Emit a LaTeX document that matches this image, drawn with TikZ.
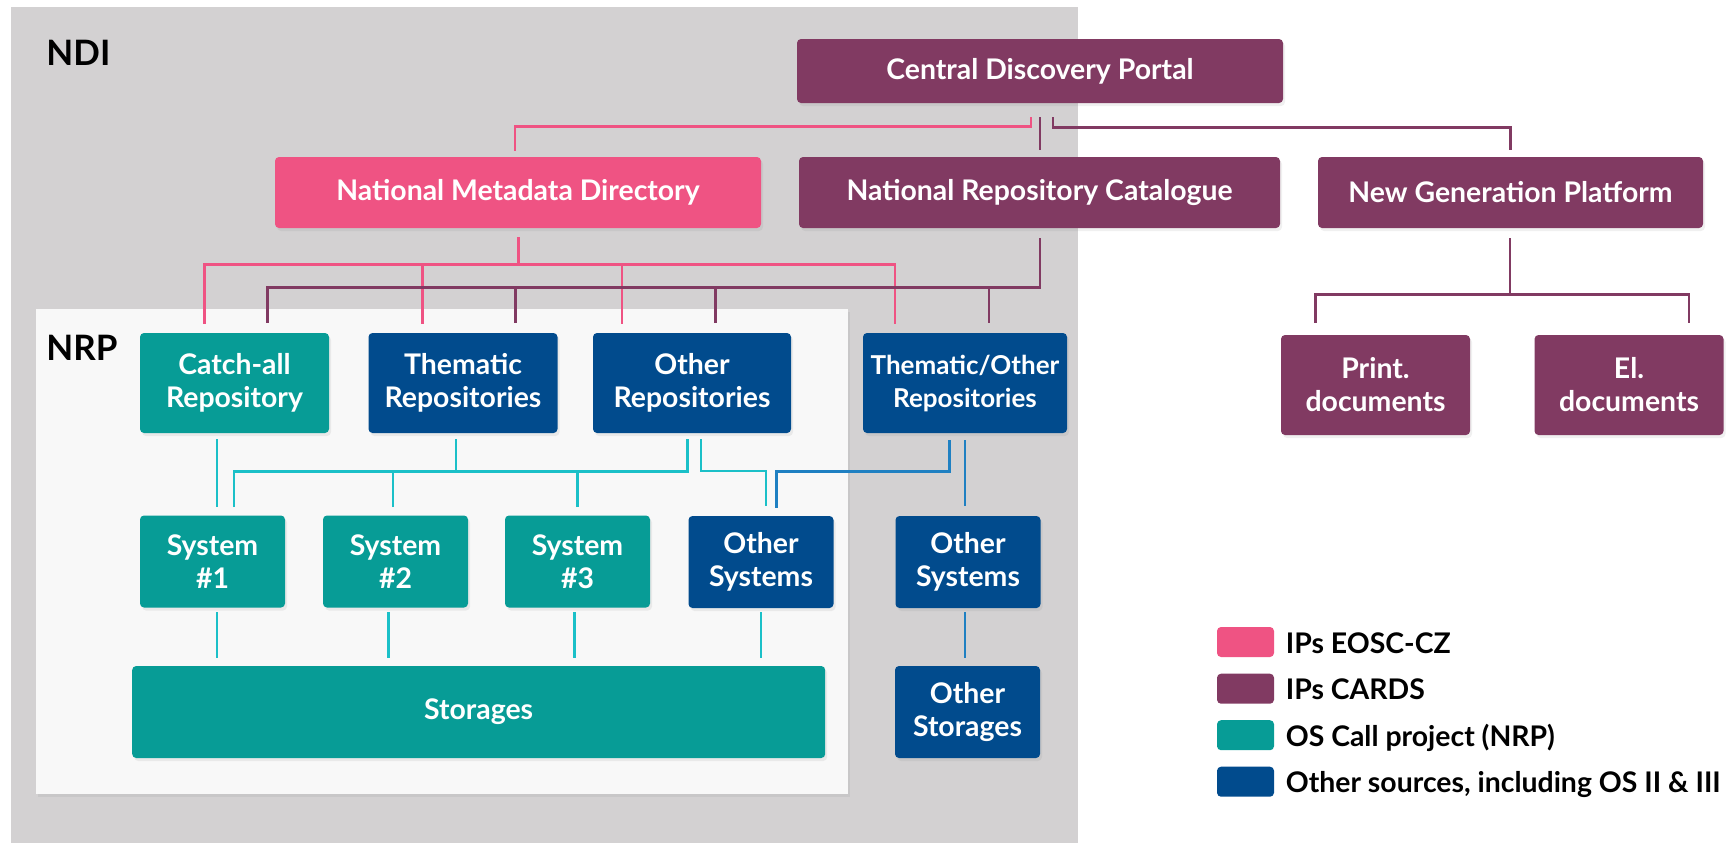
\documentclass[tikz,border=0pt]{standalone}
\usepackage{fontspec}
\setmainfont{Lato}
\usetikzlibrary{calc,shadows}

\definecolor{ndigray}{HTML}{D3D1D2}
\definecolor{nrpwhite}{HTML}{F8F8F8}
\definecolor{eoscpink}{HTML}{EF5383}
\definecolor{cardspurple}{HTML}{813A62}
\definecolor{osteal}{HTML}{079C96}
\definecolor{otherblue}{HTML}{014B8D}
\definecolor{tealline}{HTML}{1BC0C8}
\definecolor{blueline}{HTML}{1F80C2}

\tikzset{
  box/.style={rectangle,rounded corners=2pt,inner sep=0pt,align=center,text=white,
    font=\bfseries\fontsize{14.2}{16.5}\selectfont,
    drop shadow={shadow xshift=1pt,shadow yshift=-1.5pt,opacity=.12}},
  pinkbox/.style={box,fill=eoscpink},
  cardsbox/.style={box,fill=cardspurple},
  tealbox/.style={box,fill=osteal},
  bluebox/.style={box,fill=otherblue},
  repobox/.style={minimum width=94.5pt,minimum height=50pt},
  sysbox/.style={minimum width=72.5pt,minimum height=46pt},
  lpink/.style={draw=eoscpink,line width=1.2pt},
  lcards/.style={draw=cardspurple,line width=1.2pt},
  lteal/.style={draw=tealline,line width=1.2pt},
  lblue/.style={draw=blueline,line width=1.2pt},
  grouplbl/.style={inner sep=0pt,text=black,font=\bfseries\fontsize{17.5}{20}\selectfont},
  swatch/.style={rectangle,rounded corners=2pt,inner sep=0pt,minimum width=28.5pt,minimum height=15pt},
  legtext/.style={inner sep=0pt,text=black,anchor=base west,font=\bfseries\fontsize{14.2}{16}\selectfont}
}

\begin{document}
\begin{tikzpicture}[x=0.5pt,y=-0.5pt]
  %\draw (current page.south west) to[grid with coordinates] (current page.north east);
\useasboundingbox (0,0) rectangle (1729,843);
\fill[ndigray] (10.7,7.3) rectangle (1078,843);
\path[fill=nrpwhite,drop shadow={shadow xshift=1pt,shadow yshift=-1.5pt,opacity=.12}]
  (35.6,309.3) rectangle (847.6,793.7);
\node[grouplbl,anchor=north west] (ndilbl) at (46,40) {NDI};
\node[grouplbl,anchor=north west] (nrplbl) at (46,335) {NRP};

\node[cardsbox,minimum width=243pt,minimum height=32pt] (cdp) at (1040,71) {Central Discovery Portal};
\node[pinkbox,minimum width=243pt,minimum height=35.5pt] (nmd) at (518,192.5) {National Metadata Directory};
\node[cardsbox,minimum width=240.5pt,minimum height=35.5pt] (nrc) at (1039.5,192.5) {National Repository Catalogue};
\node[cardsbox,minimum width=192.5pt,minimum height=35.5pt] (ngp) at (1510.5,192.5) {New Generation Platform};

\node[tealbox,repobox] (catch) at (234.5,383) {Catch-all\\Repository};
\node[bluebox,repobox] (them) at (463,383) {Thematic\\Repositories};
\node[bluebox,repobox,minimum width=99pt] (othrep) at (692,383) {Other\\Repositories};
\node[bluebox,repobox,minimum width=102pt,font=\bfseries\fontsize{13}{16.5}\selectfont] (thoth) at (965,383) {Thematic/Other\\Repositories};
\node[cardsbox,repobox] (print) at (1375.5,385) {Print.\\documents};
\node[cardsbox,repobox] (eldoc) at (1629,385) {El.\\documents};

\node[tealbox,sysbox] (sysa) at (212.5,561.5) {System\\\#1};
\node[tealbox,sysbox] (sysb) at (395.5,561.5) {System\\\#2};
\node[tealbox,sysbox] (sysc) at (577.5,561.5) {System\\\#3};
\node[bluebox,sysbox] (othsys) at (761,562) {Other\\Systems};
\node[bluebox,sysbox] (othsysb) at (968,562) {Other\\Systems};
\node[tealbox,sysbox,minimum width=346.5pt] (stor) at (478.7,712) {Storages};
\node[bluebox,sysbox] (othstor) at (967.5,712) {Other\\Storages};

% portal
\draw[lpink] ($(nmd.north)+(-3,-6)$) -- ++(0,-24) -| ($(cdp.south)+(-9,14)$);
\draw[lcards] ($(cdp.south)+(0,14)$) -- ($(nrc.north)+(0.5,-7)$);
\draw[lcards] ($(cdp.south)+(12.7,14)$) -- ++(0,10) -| ($(ngp.north)+(0,-7)$);

% metadata directory and catalogue
\draw[lpink] ($(nmd.south)+(0.6,9)$) -- ++(0,28);
\draw[lpink] ($(catch.north)+(-30,-9)$) |- ($(thoth.north)+(-70,-68)$) -- ($(thoth.north)+(-70,-9)$);
\draw[lpink] ($(them.north)+(-40.5,-9)$) -- ++(0,-59);
\draw[lpink] ($(othrep.north)+(-70,-9)$) -- ++(0,-59);
\draw[lcards] ($(nrc.south)+(0.5,10)$) |- ($(catch.north)+(33,-45)$) -- ($(catch.north)+(33,-10)$);
\draw[lcards] ($(them.north)+(52.5,-10)$) -- ++(0,-35);
\draw[lcards] ($(othrep.north)+(23.6,-10)$) -- ++(0,-35);
\draw[lcards] ($(thoth.north)+(24,-10)$) -- ++(0,-35);

% new generation platform
\draw[lcards] ($(ngp.south)+(-0.7,10)$) -- ++(0,57);
\draw[lcards] ($(print.north)+(-60,-11.7)$) |- ($(eldoc.north)+(60,-40)$) -- ++(0,28.3);

% repositories to systems
\draw[lteal] ($(catch.south)+(-17.5,6)$) -- ($(sysa.north)+(4.5,-8)$);
\draw[lteal] ($(them.south)+(-7,6)$) -- ++(0,32);
\draw[lteal] ($(sysa.north)+(21.7,-8)$) |- ($(othrep.south)+(-4.7,38)$) -- ++(0,-32);
\draw[lteal] ($(sysb.north)+(-2.5,-8)$) -- ++(0,-36.5);
\draw[lteal] ($(sysc.north)+(0,-8)$) -- ++(0,-36.5);
\draw[lteal] ($(othrep.south)+(9,6)$) |- ($(othsys.north)+(4.7,-44.5)$) -- ($(othsys.north)+(4.7,-9.5)$);
\draw[lblue] ($(thoth.south)+(-15.6,6.7)$) |- ($(othsys.north)+(15.4,-44)$) -- ($(othsys.north)+(15.4,-8)$);
\draw[lblue] ($(thoth.south)+(-0.3,6.7)$) -- ($(othsysb.north)+(-3.3,-9.7)$);

% systems to storages
\draw[lteal] ($(sysa.south)+(4.5,4.5)$) -- ++(0,46);
\draw[lteal] ($(sysb.south)+(-7,4.5)$) -- ++(0,46);
\draw[lteal] ($(sysc.south)+(-3,4.5)$) -- ++(0,46);
\draw[lteal] ($(othsys.south)+(-0.3,4)$) -- ++(0,46);
\draw[lblue] ($(othsysb.south)+(-3.3,4)$) -- ($(othstor.north)+(-2.8,-8)$);

% legend
\node[swatch,fill=eoscpink] (legpink) at (1245.5,642) {};
\node[swatch,fill=cardspurple] (legcards) at (1245.5,688.7) {};
\node[swatch,fill=osteal] (legteal) at (1245.5,735.2) {};
\node[swatch,fill=otherblue] (legblue) at (1245.5,781.7) {};
\node[legtext] at ($(legpink.east)+(11,11)$) {IPs EOSC-CZ};
\node[legtext] at ($(legcards.east)+(11,11)$) {IPs CARDS};
\node[legtext] at ($(legteal.east)+(11,11)$) {OS Call project (NRP)};
\node[legtext] at ($(legblue.east)+(11,11)$) {Other sources, including OS II \& III};
\end{tikzpicture}
\end{document}
